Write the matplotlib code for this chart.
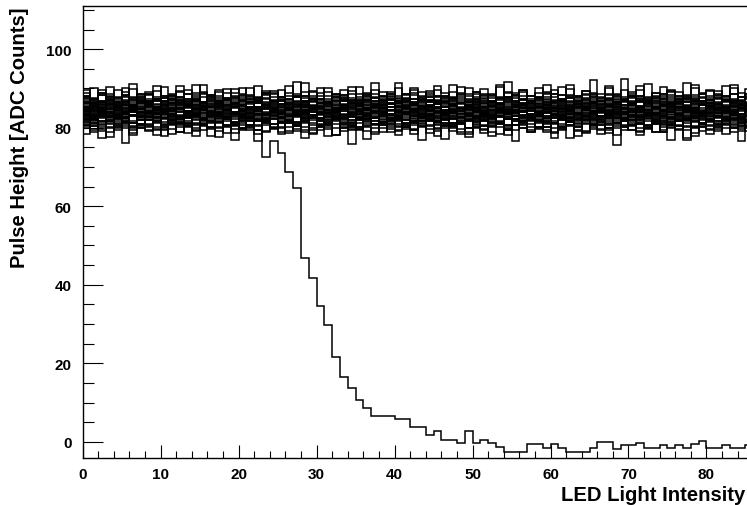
import numpy as np
import matplotlib
matplotlib.use("Agg")
import matplotlib.pyplot as plt
from matplotlib.ticker import MultipleLocator

# pulse height per LED intensity bin (bin width 1), one list per channel
flat_channels = [
    [78.4,80.5,79.1,77.6,80.9,79.8,78.2,81.0,79.4,80.3, 77.9,79.7,80.8,78.6,79.2,81.1,78.0,79.9,80.4,76.8, 79.5,80.7,78.3,79.0,80.2,78.8,81.2,79.6,77.4,80.0, 79.3,80.6,78.1,79.8,75.9,80.3,79.1,78.5,80.9,79.7, 78.2,80.1,79.4,81.0,78.7,79.9,77.2,80.5,79.0,78.4, 80.8,79.6,78.0,80.2,79.3,76.5,80.0,78.9,79.7,81.1, 78.6,79.5,80.4,77.8,79.1,80.7,78.3,79.9,75.6,80.2, 79.4,78.1,80.6,79.0,78.8,80.9,79.6,77.5,80.1,79.2, 78.5,80.3,79.8,78.9,76.7,80.5,79.3,78.0,80.8,79.5],
    [80.6,79.0,77.3,80.2,79.5,81.0,78.7,79.8,80.4,78.1, 79.6,80.9,78.9,80.3,77.8,79.4,81.2,79.1,80.5,78.6, 80.0,79.3,76.6,80.7,79.8,78.4,80.2,81.0,79.0,78.7, 80.4,79.6,78.2,80.8,79.3,80.1,77.0,79.9,80.6,78.8, 79.4,80.3,78.5,81.1,79.7,78.0,80.5,79.2,80.9,77.7, 79.8,80.4,79.0,78.3,80.7,79.5,81.0,78.8,79.9,80.2, 77.4,79.6,80.8,79.1,78.6,80.3,79.7,80.9,78.2,79.4, 80.6,78.9,79.8,81.2,79.0,76.9,80.4,79.5,78.7,80.1, 79.3,80.8,78.4,79.9,80.5,79.1,78.0,80.2,79.6,80.7],
    [79.8,81.2,80.1,78.9,81.7,80.4,79.3,80.9,82.0,79.6, 80.3,78.4,81.1,80.7,79.5,81.9,80.2,77.6,80.8,81.4, 79.9,80.6,82.1,79.2,80.0,81.3,78.7,80.5,81.6,79.4, 80.9,77.9,81.0,80.3,79.7,82.2,80.1,78.8,81.5,80.6, 79.1,80.8,81.8,76.9,80.4,79.6,81.2,80.0,78.5,81.7, 80.2,79.4,80.9,81.5,78.1,80.6,79.8,82.0,80.3,79.0, 81.3,80.5,77.4,80.1,81.6,79.7,80.8,78.6,81.1,80.4, 79.3,81.9,80.0,78.9,80.7,81.4,79.5,80.2,77.8,81.0, 80.6,79.2,81.7,80.1,79.6,80.9,78.3,81.2,80.5,79.9],
    [81.5,79.4,80.9,82.0,79.9,76.2,81.3,80.1,79.2,81.8, 80.6,81.2,79.0,80.4,82.3,80.8,79.6,81.1,78.7,80.5, 81.9,80.2,79.5,81.4,80.0,82.1,79.1,80.7,81.6,78.4, 80.3,81.0,79.8,82.4,80.6,79.3,81.2,80.9,78.9,81.7, 80.1,79.7,81.5,80.4,82.0,79.2,80.8,81.3,79.6,80.0, 81.8,78.6,80.5,81.1,79.9,80.7,82.2,79.4,80.3,81.6, 79.0,80.9,81.4,80.2,78.8,81.9,80.6,79.5,81.2,80.1, 82.3,79.8,80.4,81.0,79.3,80.8,81.7,76.8,80.5,81.3, 79.6,80.2,81.9,80.7,79.1,81.5,80.0,79.8,81.1,80.6],
    [80.4,82.1,79.6,81.3,80.8,82.5,79.9,81.0,80.2,81.7, 79.4,80.9,82.2,81.1,79.8,80.5,81.9,80.1,82.4,79.7, 81.2,80.6,79.3,81.8,80.9,80.0,82.0,81.4,79.5,80.7, 82.3,80.3,81.6,79.1,80.8,81.3,80.4,82.6,79.8,81.0, 80.5,81.9,79.6,80.2,82.1,81.5,79.9,80.7,81.2,78.9, 80.9,82.4,80.1,81.7,79.7,80.6,81.4,80.3,82.0,79.5, 81.1,80.0,81.8,79.4,82.2,80.8,81.3,79.9,80.4,81.6, 80.7,79.2,82.5,81.0,80.2,79.8,81.9,80.5,81.4,80.1, 82.0,79.6,80.9,81.5,80.3,82.3,79.7,81.2,80.6,81.8],
    [82.3,80.5,81.7,79.8,81.2,82.6,80.1,81.9,80.7,79.4, 81.5,82.0,80.3,81.1,82.8,80.6,79.9,81.4,82.2,80.8, 79.6,81.8,80.4,82.5,81.0,80.2,81.6,79.1,82.1,81.3, 80.7,81.9,82.4,80.0,81.2,79.7,82.7,80.9,81.5,80.3, 82.0,80.6,79.5,81.7,82.3,80.8,81.1,80.2,82.6,79.9, 81.4,80.5,82.1,81.0,79.3,81.8,80.7,82.4,81.2,80.1, 79.8,82.2,81.5,80.4,81.9,80.9,82.7,80.0,81.3,81.6, 80.6,81.0,79.6,82.0,81.4,80.3,81.8,82.5,80.2,81.1, 81.7,80.8,82.3,79.9,81.2,80.5,82.1,81.5,80.4,81.9],
    [80.6,82.0,81.5,82.8,80.2,81.7,81.1,79.9,82.4,81.3, 80.8,82.6,81.0,80.4,81.9,82.3,80.1,81.4,82.9,80.7, 81.6,80.0,82.2,81.2,79.7,82.5,81.8,80.5,81.1,82.7, 80.3,81.5,82.1,80.9,81.4,79.6,82.3,81.0,80.6,82.8, 81.7,80.2,81.3,82.0,80.8,81.9,80.4,82.6,81.2,79.8, 82.4,81.6,80.5,81.1,82.2,80.7,81.8,82.9,80.1,81.5, 81.0,80.3,82.5,81.7,80.9,82.1,79.5,81.3,82.4,80.6, 81.9,82.7,80.2,81.4,81.0,82.3,80.8,81.6,79.9,82.0, 80.4,81.2,82.6,80.9,81.8,80.0,82.2,81.5,80.7,81.3],
    [82.1,80.9,81.6,83.0,80.4,82.3,81.2,80.7,82.8,81.4, 80.2,81.9,82.5,81.0,80.6,82.2,81.7,83.1,80.8,81.3, 82.6,80.5,81.8,82.0,79.9,81.5,82.9,81.1,80.3,82.4, 81.6,80.8,82.7,81.2,80.1,81.9,82.3,80.6,81.4,83.2, 80.9,82.0,81.3,80.4,82.5,81.8,80.7,82.1,81.0,82.8, 80.2,81.6,82.4,81.1,80.5,83.0,81.7,80.9,82.2,81.4, 82.6,80.3,81.5,82.9,81.2,80.8,81.9,82.3,80.0,81.6, 81.1,82.7,80.6,81.3,82.0,81.8,80.4,82.5,81.7,80.9, 82.2,81.0,80.7,82.4,81.5,80.1,81.9,82.8,81.3,80.6],
    [81.2,82.6,80.8,82.0,83.1,81.5,80.4,82.3,81.9,82.8, 81.0,80.6,82.5,81.7,83.2,80.9,81.4,82.1,80.3,82.7, 81.8,82.4,80.7,81.3,83.0,81.6,82.2,80.5,81.9,82.9, 80.8,81.5,82.6,81.1,80.2,82.4,83.3,81.7,80.9,82.0, 82.5,81.3,80.6,82.8,81.8,81.0,82.3,80.4,81.6,83.1, 81.9,80.7,82.2,81.4,82.9,80.8,81.2,82.6,81.7,80.3, 82.4,83.0,81.5,80.9,82.1,81.3,82.7,80.6,81.8,82.3, 80.5,82.0,81.6,83.2,81.1,80.8,82.5,81.9,82.2,80.7, 81.4,82.8,81.0,82.1,80.6,81.7,82.4,81.2,83.0,81.5],
    [82.5,81.3,82.9,81.0,82.2,83.4,81.6,80.7,82.7,81.9, 83.1,82.0,81.4,82.6,80.9,82.3,83.0,81.7,82.8,81.2, 80.6,82.4,83.3,81.8,82.1,81.5,82.9,80.8,82.6,83.2, 81.9,81.1,82.3,82.7,80.5,82.0,81.6,83.4,82.2,81.3, 82.8,80.9,81.7,82.5,83.1,81.4,82.0,80.7,82.4,81.8, 83.0,82.1,81.2,82.9,80.6,82.3,81.5,82.7,83.3,81.0, 81.8,82.6,80.8,82.2,81.9,83.2,81.4,82.5,80.9,82.0, 82.8,81.3,83.0,81.7,82.4,80.6,82.1,81.9,82.7,81.1, 82.3,83.1,81.6,82.0,81.2,82.9,80.8,82.5,81.7,82.2],
    [81.6,82.9,83.5,81.8,82.4,81.1,83.2,82.0,80.9,82.7, 83.4,81.5,82.2,83.0,81.3,82.6,81.8,83.3,82.1,80.8, 82.5,83.1,81.7,82.3,83.6,81.2,82.0,82.8,81.4,83.2, 82.6,81.0,82.4,83.3,81.9,82.1,80.7,82.9,83.5,81.6, 82.2,81.3,83.0,82.5,81.8,83.4,82.0,81.1,82.7,82.3, 81.5,83.2,82.4,80.9,82.8,81.7,83.1,82.2,81.4,82.6, 83.3,81.9,82.0,81.2,83.0,82.5,81.6,83.6,82.1,81.8, 82.9,81.0,82.3,83.2,81.7,82.6,82.0,81.3,83.4,82.4, 81.9,82.7,81.1,83.0,82.2,81.5,82.8,83.3,81.8,82.1],
    [83.0,81.7,82.6,83.5,82.1,81.4,83.2,82.8,81.9,82.4, 83.7,82.0,81.3,82.9,83.3,81.8,82.5,83.6,82.2,81.5, 82.7,83.1,81.9,82.3,83.8,82.6,81.2,82.9,83.4,82.0, 81.6,82.8,83.3,82.4,81.1,83.0,82.2,81.7,83.5,82.5, 82.1,83.4,81.8,82.6,83.0,81.5,82.3,83.7,82.0,81.9, 83.2,82.7,81.4,82.9,83.5,82.1,81.8,82.4,83.1,82.6, 81.3,83.3,82.5,81.9,82.8,83.6,82.2,81.6,83.0,82.4, 82.7,81.5,83.4,82.0,82.6,81.2,83.1,82.9,81.8,83.5, 82.3,81.7,82.8,83.2,82.1,81.4,82.6,83.4,82.0,82.9],
    [82.0,83.3,82.7,81.6,83.6,82.4,83.0,81.9,82.8,83.9, 82.2,81.7,83.1,82.5,83.5,82.0,81.4,82.9,83.4,82.3, 83.8,82.6,81.8,83.2,82.1,82.9,83.6,81.5,82.7,83.0, 82.4,83.7,82.0,81.6,83.3,82.8,82.2,83.9,81.9,82.6, 83.1,82.3,83.5,81.7,82.9,82.5,83.2,81.3,82.8,83.6, 82.1,81.9,83.4,82.7,82.2,83.8,82.4,81.6,83.0,82.6, 83.3,82.0,81.8,83.5,82.9,82.3,81.5,83.1,82.7,83.7, 81.9,82.5,83.2,82.1,83.6,82.8,81.7,82.4,83.0,82.2, 83.4,81.6,82.9,83.3,82.0,82.7,83.8,82.5,81.9,83.1],
    [83.4,82.1,83.0,83.9,82.5,81.8,83.3,82.8,82.0,83.7, 82.4,83.1,81.9,82.9,83.6,82.2,83.2,82.6,81.7,83.8, 82.9,82.3,83.5,82.0,83.1,82.7,81.6,83.4,82.5,83.0, 83.9,82.2,82.8,83.3,81.9,82.6,83.7,82.4,83.1,82.0, 82.7,83.5,82.1,82.9,83.2,81.8,83.6,82.3,82.8,83.4, 82.5,81.9,83.0,83.8,82.6,82.2,83.3,82.9,81.7,83.1, 83.5,82.4,82.0,83.2,82.8,83.9,82.1,82.6,83.4,82.3, 81.8,83.0,83.6,82.5,82.9,82.2,83.3,81.9,83.7,82.7, 83.1,82.4,83.8,82.0,82.6,83.5,82.2,83.0,82.8,83.2],
    [82.3,83.6,83.1,82.6,84.0,82.8,83.3,82.0,83.7,82.5, 83.9,82.9,82.2,83.4,83.0,82.4,84.1,83.2,82.7,83.5, 82.1,83.8,82.8,83.3,82.5,83.6,82.0,83.1,84.0,82.6, 83.4,82.9,83.7,82.3,83.0,83.5,82.2,83.9,82.7,83.2, 82.4,83.6,83.1,82.8,84.1,82.5,83.3,82.9,83.8,82.1, 83.0,83.5,82.6,83.2,82.3,83.9,82.8,83.4,82.0,83.7, 82.9,83.1,82.4,83.6,83.0,82.7,84.0,82.5,83.3,82.8, 83.8,82.2,83.5,82.9,83.1,82.6,83.4,83.9,82.4,83.0, 82.7,83.7,82.3,83.2,83.6,82.9,82.1,83.5,83.0,82.6],
    [83.6,82.7,83.9,83.2,82.5,84.1,83.0,82.8,83.7,83.4, 82.6,83.3,84.2,82.9,83.5,82.4,83.8,83.1,82.7,84.0, 83.3,82.8,83.6,83.0,84.1,82.5,83.4,83.9,82.9,83.2, 82.6,83.7,83.1,84.3,82.8,83.5,83.0,82.4,83.8,83.3, 83.9,82.7,83.2,83.6,82.9,84.0,83.1,82.6,83.4,83.7, 82.5,83.8,83.0,82.8,84.2,83.3,82.7,83.5,83.1,83.9, 83.4,82.9,83.6,82.5,83.2,84.1,82.8,83.0,83.7,82.6, 83.3,84.0,82.9,83.5,83.1,82.7,83.8,83.4,82.6,83.2, 83.9,83.0,82.8,83.6,84.2,82.9,83.3,82.5,83.7,83.1],
    [82.8,84.0,83.4,83.9,82.7,83.6,84.2,83.1,82.9,83.8, 83.5,84.3,82.8,83.2,83.7,83.0,84.1,82.6,83.4,83.9, 83.1,82.7,84.0,83.5,83.3,84.4,82.9,83.6,83.2,84.1, 83.8,82.8,83.4,84.2,83.0,83.7,82.6,83.9,83.3,84.3, 82.9,83.5,84.0,83.1,82.7,83.8,84.2,83.4,83.0,83.6, 84.1,82.8,83.3,83.9,83.5,82.9,84.3,83.2,83.7,83.0, 83.6,84.0,82.7,83.4,83.8,83.1,82.9,84.1,83.5,83.2, 84.2,83.0,83.7,82.8,83.3,83.9,83.6,84.4,82.9,83.4, 83.1,83.8,84.0,83.2,82.7,83.6,84.3,83.0,83.5,83.9],
    [84.1,83.0,83.7,84.4,83.3,82.8,84.0,83.6,84.3,82.9, 83.5,84.2,83.1,83.8,82.7,84.5,83.4,83.0,84.1,83.7, 82.9,83.6,84.3,83.2,83.9,84.0,82.8,83.5,84.4,83.1, 83.7,82.9,84.2,83.4,83.0,84.1,83.8,82.7,83.6,84.5, 83.3,84.0,82.9,83.5,84.3,83.1,83.8,84.2,82.8,83.6, 83.9,83.2,84.4,83.0,83.7,82.9,84.1,83.5,83.3,84.0, 82.8,83.6,84.3,83.4,83.1,84.2,83.7,82.9,83.8,84.0, 83.2,84.5,83.0,83.6,84.1,83.3,82.8,83.9,84.2,83.5, 83.8,82.9,84.0,83.4,83.1,84.3,83.6,83.0,84.1,83.7],
    [83.2,84.4,83.8,84.1,82.9,83.6,84.6,83.3,84.0,83.5, 84.3,83.1,83.9,82.8,84.5,83.7,84.2,83.4,83.0,84.1, 83.6,84.4,83.2,83.9,84.7,83.5,83.0,84.2,83.8,83.3, 84.0,83.6,84.5,83.1,83.8,84.3,82.9,83.7,84.1,83.4, 84.6,83.2,83.9,84.0,83.5,82.9,84.4,83.7,84.2,83.3, 83.8,84.1,83.0,84.5,83.6,83.9,84.3,83.2,83.7,84.0, 83.4,84.7,83.1,83.8,84.2,83.5,83.0,84.4,83.9,83.6, 84.1,83.3,84.5,83.7,82.9,84.0,83.8,84.3,83.2,83.6, 84.2,83.5,83.9,84.6,83.4,83.1,84.1,83.7,84.4,83.0],
    [84.4,83.5,84.1,84.8,83.7,83.2,84.6,84.0,83.4,84.3, 83.8,84.7,83.3,84.2,83.9,84.5,83.1,84.0,84.6,83.6, 84.3,83.9,84.8,83.4,84.1,83.7,84.5,83.2,84.0,84.4, 83.6,84.2,83.1,84.7,83.9,84.3,83.5,84.0,84.6,83.3, 84.1,83.8,84.5,83.4,84.2,84.8,83.6,83.9,84.3,83.1, 84.0,84.6,83.5,84.1,83.7,84.4,83.3,84.2,83.9,84.7, 83.4,84.0,84.5,83.8,83.2,84.3,84.1,83.6,84.8,83.9, 84.2,83.5,84.4,84.0,83.7,84.6,83.3,84.1,83.8,84.5, 83.6,84.3,83.9,84.7,83.4,84.0,84.2,83.5,84.6,83.8],
    [83.6,84.5,84.2,83.9,84.8,83.7,84.3,85.0,83.8,84.4, 84.0,83.5,84.7,84.2,83.9,84.9,83.6,84.1,84.6,83.8, 84.5,83.4,84.3,84.8,84.0,83.7,84.6,84.2,83.5,84.9, 84.1,84.4,83.8,84.7,83.6,84.3,85.0,83.9,84.2,84.5, 83.7,84.0,84.8,83.5,84.4,84.1,83.8,84.6,84.3,83.6, 84.9,84.2,83.9,84.5,83.7,84.0,84.7,83.4,84.3,84.8, 84.1,83.6,84.4,84.9,83.8,84.2,84.5,83.5,84.0,84.6, 83.9,84.7,84.1,83.7,84.3,84.8,83.6,84.4,84.0,83.8, 84.6,84.2,83.5,84.5,84.9,83.9,84.1,84.7,83.7,84.3],
    [84.8,84.0,84.5,83.8,85.1,84.3,83.9,84.7,84.2,85.0, 83.7,84.4,84.9,84.1,83.6,84.6,85.2,84.0,84.5,83.9, 84.2,85.0,84.4,83.8,84.7,84.1,85.1,83.7,84.3,84.8, 84.6,83.9,84.2,85.0,84.4,83.6,84.9,84.3,84.0,85.2, 84.1,84.7,83.8,84.5,85.0,84.2,83.9,84.8,84.4,84.0, 85.1,83.7,84.6,84.3,83.9,84.9,84.1,85.0,84.5,83.8, 84.2,84.7,85.2,83.9,84.4,84.0,84.8,84.3,83.6,84.9, 84.5,84.1,83.8,85.1,84.6,84.0,84.3,84.9,84.2,83.7, 84.7,85.0,84.4,83.9,84.6,84.2,85.1,84.0,84.5,84.8],
    [84.1,85.0,84.6,85.3,84.3,84.9,83.9,84.7,85.2,84.4, 85.0,84.2,84.8,84.0,85.4,84.5,84.1,85.1,84.6,83.9, 84.7,85.3,84.3,84.9,84.0,85.0,84.4,85.2,83.8,84.6, 85.1,84.5,84.0,84.8,85.4,84.2,84.7,84.1,85.0,84.6, 84.3,85.2,84.8,83.9,84.5,85.1,84.4,84.0,84.9,85.3, 84.6,84.2,85.0,84.7,84.1,85.4,84.3,84.8,84.0,85.1, 84.9,84.4,83.9,85.2,84.6,84.2,85.0,84.5,85.3,84.1, 84.7,85.0,84.3,84.8,85.2,84.0,84.6,85.1,84.4,83.9, 85.0,84.5,84.9,84.2,85.3,84.7,84.1,84.8,85.1,84.4],
    [85.2,84.3,84.9,85.5,84.6,84.1,85.3,84.8,85.0,84.4, 84.2,85.1,84.7,85.6,84.5,84.9,84.0,85.3,84.6,85.2, 84.8,84.3,85.4,84.7,85.0,84.1,84.9,85.5,84.4,84.8, 85.3,84.6,84.2,85.1,84.7,85.6,84.3,84.9,85.2,84.5, 84.0,85.0,84.8,85.4,84.4,84.9,85.3,84.2,84.7,85.1, 84.5,85.5,84.1,84.8,85.2,84.6,84.3,85.0,84.9,85.4, 84.7,84.2,85.3,84.5,85.0,84.8,84.1,85.6,84.6,84.9, 85.1,84.4,84.7,85.3,84.2,85.0,84.8,84.5,85.4,84.3, 84.9,85.2,84.6,84.0,85.1,84.7,85.5,84.4,84.8,85.0],
    [84.5,85.4,85.0,84.7,85.7,84.6,85.2,84.3,85.5,84.9, 85.3,84.4,85.1,85.8,84.8,85.0,84.5,85.6,84.7,85.2, 84.2,85.4,84.9,85.1,84.6,85.7,84.8,84.4,85.3,85.0, 84.7,85.5,84.3,85.2,84.9,85.6,84.5,85.0,84.8,85.4, 85.1,84.6,85.7,84.4,85.3,84.9,84.2,85.5,85.0,84.7, 85.2,84.8,85.4,84.5,85.8,84.6,85.1,84.9,85.3,84.4, 85.6,85.0,84.7,85.2,84.5,85.4,84.9,85.1,84.3,85.7, 84.8,85.3,84.6,85.0,85.5,84.4,85.2,84.7,85.1,84.9, 85.4,84.5,85.0,85.6,84.8,85.3,84.6,85.2,84.9,85.5],
    [85.6,84.8,85.3,85.9,84.9,85.5,84.6,85.2,85.7,85.0, 84.7,85.4,85.8,85.1,84.9,85.6,85.3,84.5,85.9,85.2, 85.5,84.8,85.0,85.7,85.3,84.6,85.4,86.0,84.9,85.1, 85.6,85.2,84.7,85.5,85.9,85.0,84.8,85.3,85.7,84.6, 85.4,85.8,85.1,84.9,85.6,85.2,84.5,85.5,85.0,85.9, 84.8,85.3,85.7,85.1,84.6,85.4,86.0,85.2,84.9,85.6, 85.0,85.5,84.7,85.8,85.3,85.1,84.9,85.6,85.4,84.8, 85.7,85.0,85.3,84.6,85.9,85.2,85.5,84.9,85.1,85.8, 85.2,84.7,85.6,85.4,85.0,85.9,84.8,85.3,85.7,85.1],
    [84.9,85.8,85.4,86.1,85.2,85.7,84.8,85.5,86.0,85.1, 85.6,85.0,85.9,85.3,84.7,85.8,85.4,86.2,85.1,85.5, 85.9,85.2,84.8,85.7,85.3,86.0,85.5,84.9,85.6,85.2, 85.4,86.1,85.0,85.8,85.3,84.7,85.9,85.5,85.1,86.0, 85.6,85.2,85.8,84.9,85.4,86.2,85.3,85.7,85.0,85.5, 85.9,85.1,85.6,85.4,84.8,86.0,85.2,85.8,85.5,85.0, 85.3,85.9,85.1,86.1,85.4,85.7,84.9,85.6,85.2,85.8, 86.0,85.3,85.5,85.0,85.9,85.2,86.2,85.4,84.8,85.7, 85.5,85.1,85.8,85.3,86.0,85.6,84.9,85.4,85.9,85.2],
    [86.0,85.2,85.7,86.3,85.4,85.9,85.0,86.1,85.6,85.3, 85.8,86.4,85.1,85.6,86.0,85.5,84.9,86.2,85.7,85.3, 85.9,85.4,86.3,85.2,85.8,86.1,85.0,85.6,86.0,85.5, 85.3,86.2,85.7,85.1,85.9,86.4,85.4,85.8,85.2,86.0, 85.6,85.0,86.1,85.5,85.8,85.3,86.3,85.7,85.1,85.9, 86.2,85.4,85.6,86.0,85.2,85.8,85.5,86.4,85.3,85.7, 85.0,86.1,85.9,85.4,86.2,85.6,85.3,85.8,86.0,85.1, 85.7,85.5,86.3,85.2,85.9,86.1,85.4,85.6,85.0,86.2, 85.8,86.0,85.3,85.7,85.5,86.4,85.1,85.9,85.6,85.4],
    [85.3,86.2,85.8,86.5,85.6,86.0,85.1,86.3,85.9,85.4, 86.1,85.7,86.6,85.2,85.9,86.4,85.5,86.0,85.3,86.2, 85.8,86.5,85.4,86.1,85.7,85.2,86.3,85.9,86.6,85.5, 86.0,85.6,86.4,85.3,86.2,85.8,85.1,86.5,85.7,86.1, 85.4,86.3,85.9,85.5,86.6,86.0,85.2,85.8,86.4,85.6, 86.1,85.3,86.2,85.7,86.5,85.4,85.9,86.3,85.6,86.0, 85.8,86.6,85.5,86.1,85.2,86.4,85.9,85.7,86.2,85.3, 86.5,85.6,86.0,85.4,86.3,85.8,86.1,85.5,86.6,85.9, 85.7,86.2,85.3,86.4,85.9,86.0,85.6,86.5,85.2,86.1],
    [86.4,85.6,86.1,86.8,85.8,86.3,85.4,86.6,86.0,85.7, 86.5,85.9,86.2,86.9,85.5,86.4,86.0,85.7,86.7,86.1, 85.6,86.3,86.8,85.9,86.2,85.4,86.5,86.0,86.7,85.8, 86.2,86.6,85.7,86.0,86.9,85.5,86.3,86.1,85.8,86.4, 86.7,85.9,86.2,85.6,86.5,86.8,85.7,86.0,86.3,85.4, 86.6,86.1,85.8,86.4,86.9,85.6,86.2,86.0,86.7,85.9, 86.3,85.5,86.5,86.1,85.8,86.8,86.0,86.4,85.7,86.6, 86.2,86.9,85.9,86.3,85.6,86.5,86.1,85.8,86.7,86.0, 86.4,85.7,86.8,86.2,86.0,85.5,86.6,86.3,85.9,86.5],
    [86.6,85.8,86.4,87.1,86.0,86.5,85.7,86.9,86.2,86.7, 85.9,86.3,87.0,86.1,86.6,85.6,86.8,86.4,85.9,87.2, 86.5,86.0,86.7,85.8,86.3,87.0,86.2,86.6,85.7,86.9, 86.4,86.1,87.1,85.9,86.5,86.2,86.8,85.6,86.3,87.0, 86.0,86.7,86.4,85.8,86.9,86.1,86.6,87.2,86.3,85.9, 86.8,86.2,86.5,86.0,87.1,85.7,86.4,86.9,86.1,86.6, 86.3,87.0,85.8,86.7,86.2,86.5,85.9,86.8,86.4,87.2, 86.0,86.6,86.3,85.7,86.9,86.2,87.0,86.5,86.1,86.8, 86.4,85.9,86.7,87.1,86.3,86.0,86.6,85.8,86.9,86.5],
    [86.9,86.1,86.6,87.4,86.2,86.8,85.9,87.1,86.5,86.0, 86.7,87.3,86.4,86.0,87.0,86.6,85.8,86.9,87.2,86.3, 86.1,86.8,87.5,86.4,86.7,86.0,87.1,86.5,86.2,87.3, 86.6,86.0,86.9,87.2,86.3,85.9,87.0,86.7,86.4,87.4, 86.2,86.8,86.5,87.1,85.9,86.6,87.3,86.1,86.9,86.4, 87.0,86.3,86.7,86.0,87.2,86.5,85.8,86.8,87.5,86.2, 86.6,87.0,86.4,86.9,86.1,87.3,86.7,86.0,86.5,87.1, 86.3,86.8,87.4,86.2,86.6,85.9,86.9,87.2,86.4,86.7, 87.0,86.1,86.5,87.3,86.8,86.3,86.0,87.1,86.6,86.9],
    [87.2,86.3,86.9,86.0,87.6,86.6,87.1,86.4,87.4,86.8, 86.2,87.0,87.7,86.5,86.9,86.1,87.3,86.7,87.5,86.4, 87.0,86.6,86.2,87.4,86.8,87.1,86.0,86.9,87.6,86.5, 86.3,87.2,86.7,87.5,86.4,86.9,87.3,86.1,86.8,87.0, 87.4,86.5,86.2,87.1,86.7,87.7,86.4,86.9,86.0,87.3, 86.6,87.2,86.8,86.3,87.5,86.5,87.0,86.7,86.1,87.4, 86.9,86.4,87.6,86.6,87.1,86.2,86.8,87.3,86.5,87.0, 86.7,87.5,86.3,86.9,86.0,87.2,86.6,87.4,86.8,86.4, 87.1,86.5,87.7,86.2,86.9,87.3,86.6,87.0,86.4,87.2],
    [86.2,87.4,86.9,87.8,86.5,87.1,86.3,87.5,86.8,87.2, 87.6,86.4,87.0,86.7,87.9,86.6,87.3,86.1,87.1,87.7, 86.8,87.2,86.4,87.5,86.9,87.0,86.3,87.8,86.6,87.3, 87.1,86.5,87.6,86.9,86.2,87.4,87.0,86.7,87.9,86.4, 86.9,87.3,86.6,87.7,87.1,86.3,87.5,86.8,87.2,86.5, 87.4,86.9,86.2,87.0,87.8,86.7,87.3,86.4,87.6,87.1, 86.6,87.2,87.5,86.3,86.9,87.7,86.8,87.0,86.5,87.4, 87.9,86.6,87.1,86.8,87.3,86.2,87.6,86.9,87.2,86.7, 86.4,87.5,87.0,86.8,87.8,86.5,87.2,86.9,87.4,86.6],
    [87.5,86.5,88.3,87.0,86.2,87.9,87.3,88.6,86.7,87.4, 86.9,88.1,87.6,86.4,87.2,88.8,86.8,87.5,86.3,88.0, 87.1,86.6,87.8,88.4,86.9,87.3,86.1,87.7,88.2,86.8, 87.4,86.5,88.5,87.0,87.6,86.3,87.9,88.7,86.9,87.2, 88.0,86.7,87.4,86.2,88.3,87.1,86.8,87.7,88.9,86.6, 87.3,88.1,86.9,87.5,86.4,88.4,87.0,86.7,87.8,88.6, 86.5,87.2,88.0,86.9,87.6,88.3,86.3,87.4,87.9,86.8, 88.2,87.0,86.6,87.7,88.5,86.4,87.3,88.0,86.9,87.5, 86.7,88.4,87.1,86.5,87.8,88.1,86.9,87.6,86.3,87.4],
    [87.8,86.7,88.4,87.2,86.5,88.1,87.5,86.9,88.7,87.0, 87.6,88.3,86.8,87.4,88.9,86.6,87.9,88.2,87.1,86.4, 88.0,87.3,86.8,88.5,87.7,86.9,87.4,88.6,86.7,87.2, 88.1,86.5,87.8,88.3,87.0,86.7,88.8,87.5,87.1,88.0, 86.6,87.3,88.4,86.9,87.7,88.2,86.8,87.5,86.4,88.6, 87.2,86.7,88.0,87.6,88.9,86.9,87.4,88.1,87.0,86.6, 88.5,87.3,86.8,87.9,88.3,86.5,87.6,88.7,87.1,86.9, 87.5,88.2,86.7,87.3,88.0,87.8,86.6,88.4,87.2,86.8, 88.1,87.4,86.9,88.6,87.0,87.7,88.3,86.5,87.5,88.0],
    [88.2,87.0,86.6,88.6,87.5,89.1,86.9,87.8,88.4,87.2, 86.8,88.0,89.3,87.4,86.7,88.5,87.9,87.1,88.8,86.9, 87.6,88.3,87.0,86.5,88.9,87.7,87.2,88.1,86.8,89.0, 87.3,86.9,88.4,87.8,87.0,88.7,86.6,87.5,88.2,87.9, 86.7,88.6,87.4,89.2,87.1,86.8,88.0,87.6,88.5,86.9, 87.8,88.3,86.6,87.2,89.0,87.5,88.1,86.8,87.7,88.9, 87.0,86.7,88.4,87.9,87.3,88.6,86.9,87.6,88.2,87.1, 88.7,87.4,86.8,88.0,87.5,89.4,87.2,86.6,88.3,87.8, 87.0,88.5,87.3,86.9,88.8,87.6,88.1,87.2,86.7,88.4],
    [88.9,87.3,89.6,88.1,87.0,90.2,87.8,88.5,86.9,89.3, 88.0,87.4,90.6,88.7,87.2,89.0,88.3,86.8,89.8,87.6, 88.4,90.1,87.5,88.8,87.1,89.5,88.2,87.7,91.3,88.0, 87.4,89.2,88.6,87.0,90.4,87.9,88.3,89.7,87.3,88.5, 90.0,87.6,88.9,87.2,89.4,88.1,87.8,90.8,88.4,87.1, 89.1,88.6,87.5,90.3,87.9,88.2,89.6,87.4,88.8,91.0, 87.7,88.3,89.9,87.2,88.6,92.1,87.9,88.4,87.3,89.5, 88.1,90.5,87.6,88.9,87.4,89.2,88.0,91.4,87.8,88.5, 89.7,87.5,88.2,90.0,87.9,88.7,87.3,89.4,88.6,87.8],
    [89.5,87.6,88.9,90.3,87.9,88.4,89.8,87.2,88.7,90.6, 88.1,87.5,89.2,88.6,91.0,87.8,88.3,89.6,87.4,88.9, 90.1,88.0,87.3,89.4,88.5,87.9,90.7,88.2,89.0,87.6, 88.8,90.2,87.7,88.4,89.3,87.1,88.6,91.5,88.0,89.1, 87.5,88.7,90.0,88.2,87.8,89.5,88.9,87.3,90.4,88.1, 89.2,87.6,88.5,90.9,87.9,88.3,89.7,88.0,87.4,89.0, 88.6,90.3,87.7,88.2,89.4,88.8,87.2,90.6,88.4,87.9, 89.1,88.0,91.2,87.5,88.7,89.6,88.1,87.8,90.0,88.5, 87.6,89.3,88.2,90.8,87.9,88.6,89.9,87.4,88.3,89.2],
    [88.2,90.0,88.9,87.7,89.5,88.4,91.1,88.0,89.2,87.9, 90.4,88.6,87.8,89.7,88.3,90.9,88.1,89.0,87.6,89.9, 88.5,87.9,90.6,88.8,89.3,87.7,88.9,91.7,88.2,89.4, 90.1,88.0,87.8,89.6,88.7,90.3,88.2,87.9,89.1,88.5, 91.3,88.4,89.7,87.6,88.9,90.5,88.1,89.2,87.8,90.0, 88.6,89.8,88.3,87.9,91.6,88.8,89.0,88.2,90.2,87.7, 89.5,88.4,90.8,88.0,89.3,87.8,88.7,90.1,88.5,92.4, 88.1,89.6,87.9,88.8,90.4,88.3,89.1,87.6,91.0,88.9, 89.4,88.0,90.7,88.6,87.8,89.9,88.4,90.3,88.2,89.0],
    [84.2,82.1,83.5,81.6,84.6,82.8,83.9,81.9,83.2,85.0, 82.4,83.7,81.5,84.3,82.9,83.4,81.8,84.8,82.6,83.1, 84.0,81.7,83.6,82.3,84.5,82.7,81.4,83.9,82.5,84.1, 83.3,81.9,84.7,82.2,83.8,82.6,81.6,84.4,83.0,82.1, 83.5,84.9,82.4,81.8,83.6,84.2,82.7,83.1,81.5,84.6, 82.9,83.4,81.7,84.0,82.3,83.8,85.1,82.0,83.3,81.9, 84.4,82.8,83.6,82.2,84.7,81.6,83.0,84.1,82.5,83.9, 82.0,84.3,83.2,81.8,84.8,82.6,83.5,82.1,84.0,83.1, 81.7,83.7,84.5,82.4,83.0,81.9,84.2,82.8,83.6,82.3],
    [85.3,83.1,84.6,82.7,85.5,83.9,84.2,82.9,85.8,83.4, 84.8,82.6,84.1,85.6,83.3,84.5,82.8,85.2,83.7,84.9, 83.0,85.4,84.3,82.5,84.7,83.6,85.9,83.2,84.4,82.9, 85.1,83.8,84.0,85.7,82.7,84.6,83.3,85.3,84.1,83.5, 82.8,85.0,84.4,83.1,85.6,83.9,82.6,84.8,85.2,83.4, 84.2,82.9,85.5,83.7,84.6,83.0,85.8,84.3,82.8,84.9, 83.5,85.1,84.0,82.7,85.4,83.8,84.5,83.2,85.7,84.1, 83.3,84.7,82.6,85.3,84.2,83.6,85.0,82.9,84.4,83.9, 85.6,83.1,84.8,84.0,82.8,85.2,83.7,84.3,85.9,83.4],
    [84.2,86.3,85.1,83.8,86.6,84.7,85.5,83.9,86.2,85.0, 84.4,86.8,85.3,84.0,85.9,84.6,86.4,83.7,85.6,86.1, 84.9,83.8,86.5,85.2,84.3,86.7,85.0,84.5,85.8,83.9, 86.3,84.8,85.4,86.9,84.1,85.7,84.4,86.0,85.1,83.6, 86.2,85.5,84.2,86.6,84.9,85.3,83.8,86.4,85.0,84.6, 85.9,84.0,86.8,85.2,84.7,86.1,83.9,85.6,86.3,84.5, 85.1,86.7,84.3,85.8,84.8,86.0,85.4,83.7,86.5,84.9, 85.6,84.1,86.2,85.0,84.4,86.9,85.3,84.6,85.9,84.2, 86.4,85.1,83.9,85.7,86.6,84.8,85.2,84.0,86.1,85.5],
    [83.5,85.6,84.2,85.1,83.2,84.9,85.8,83.7,84.6,85.3, 83.9,84.4,86.0,83.4,85.0,84.7,83.1,85.5,84.3,85.9, 83.6,84.8,85.2,83.3,84.5,85.7,84.0,83.8,85.4,84.1, 85.6,83.5,84.9,85.0,83.2,84.6,85.8,84.2,83.7,85.3, 84.4,83.9,85.5,84.8,83.4,86.1,84.0,85.2,83.6,84.7, 85.4,83.3,84.5,85.9,84.1,83.8,85.1,84.6,83.5,85.7, 84.3,85.0,83.6,84.9,85.6,83.9,84.2,85.3,84.8,83.4, 85.8,84.0,83.7,85.2,84.5,85.5,83.3,84.8,85.0,84.1, 83.8,85.4,84.6,83.5,85.9,84.3,84.9,83.6,85.1,84.7],
]

# the one channel that saturates and drops off above ~25
falling_channel = [
    83.1,82.4,83.7,82.9,83.5,82.6,83.2,84.0,82.8,83.4,
    82.5,83.6,83.0,82.7,83.3,84.1,82.9,83.5,82.6,83.2,
    82.8,81.9,79.5,72.5,76.6,73.5,68.6,64.6,46.7,41.6,
    34.6,29.7,21.7,16.6,13.6,10.7,8.7,6.6,6.6,6.6,
    5.8,5.8,3.7,3.7,1.7,2.8,0.5,0.5,-0.3,2.8,
    -0.3,0.5,-0.3,-1.2,-2.5,-2.5,-2.5,-0.5,-0.5,-1.5,
    -0.5,-1.5,-2.5,-2.5,-2.5,-1.5,0.0,0.0,-1.8,-0.8,
    -0.8,-0.2,-1.5,-1.5,-0.8,-1.5,-0.8,-1.5,-0.6,0.2,
    -1.5,-1.5,-0.8,-1.5,-1.5,-0.7,-1.2,
]

plt.rcParams['font.family'] = ['Liberation Sans', 'DejaVu Sans']

W, H = 747, 506
fig = plt.figure(figsize=(W / 100, H / 100), dpi=100)
left, bottom, top = 82.7, 459.3, 7.0
ax = fig.add_axes([left / W, 1 - bottom / H, 1 - left / W, (bottom - top) / H])

for ch in flat_channels + [falling_channel]:
    v = np.array(ch)
    ax.stairs(v, np.arange(len(v) + 1), color='black', lw=1.1)

ax.set_xlim(0, 85.2)
ax.set_ylim(-4.2, 111)

ax.spines['right'].set_visible(False)
for s in ['left', 'bottom', 'top']:
    ax.spines[s].set_linewidth(1.0)

ax.xaxis.set_major_locator(MultipleLocator(10))
ax.xaxis.set_minor_locator(MultipleLocator(2))
ax.yaxis.set_major_locator(MultipleLocator(20))
ax.yaxis.set_minor_locator(MultipleLocator(5))
ax.tick_params(axis='x', which='major', direction='in', length=9.4, width=0.8, pad=6, labelsize=11)
ax.tick_params(axis='x', which='minor', direction='in', length=5, width=0.8)
ax.tick_params(axis='y', which='major', direction='in', length=14.6, width=0.8, pad=8, labelsize=11)
ax.tick_params(axis='y', which='minor', direction='in', length=8, width=0.8)
for lab in ax.get_xticklabels() + ax.get_yticklabels():
    lab.set_fontweight('bold')

fig.text(745 / W, 1 - 496 / H, 'LED Light Intensity', ha='right', va='center',
         fontsize=14.6, fontweight='bold')
fig.text(19.5 / W, 1 - 8 / H, 'Pulse Height [ADC Counts]', ha='center', va='top',
         rotation=90, fontsize=14.6, fontweight='bold')

fig.savefig('out.png', dpi=100)
